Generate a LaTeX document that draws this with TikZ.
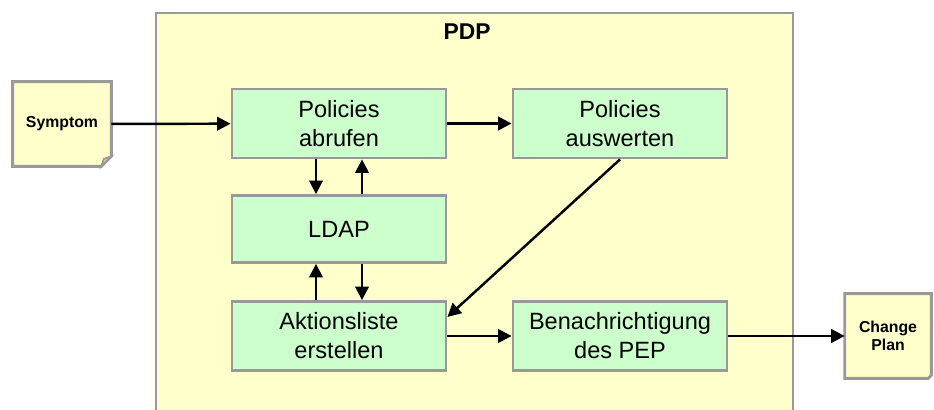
\documentclass[tikz,border=0pt]{standalone}
\usepackage{fontspec}
\setmainfont{Liberation Sans}
\usetikzlibrary{arrows.meta,backgrounds}

\definecolor{notiz}{HTML}{FFFFCC}
\definecolor{schritt}{HTML}{CCFFCC}
\definecolor{rand}{HTML}{999999}

\begin{document}
\begin{tikzpicture}[
    box/.style = {draw=rand, line width=1.6pt, fill=schritt, minimum width=4.28cm,
                  minimum height=1.38cm, align=center, inner sep=0pt,
                  font=\fontsize{13.4}{16.5}\selectfont},
    note/.style = {minimum height=1.68cm, align=center, inner sep=0pt,
                   font=\bfseries\fontsize{9}{10.5}\selectfont},
    pfeil/.style = {-{Triangle[length=0.27cm, width=0.27cm]}, line width=1.4pt}
  ]
  \useasboundingbox (0,0) rectangle (18.68,8.2);

  % Rahmen PDP
  \draw[rand, line width=1.6pt, fill=notiz] (3.12,-0.3) rectangle (15.86,7.94);
  \node[font=\bfseries\fontsize{13}{15}\selectfont] (pdp) at (9.34,7.56) {PDP};

  % Schritte
  \node[box] (abrufen)   at (6.78,5.73) {Policies\\abrufen};
  \node[box] (auswerten) at (12.4,5.73) {Policies\\auswerten};
  \node[box, minimum height=1.34cm] (ldap) at (6.78,3.62) {LDAP};
  \node[box] (aktion)    at (6.78,1.48) {Aktionsliste\\erstellen};
  \node[box] (pep)       at (12.4,1.48) {Benachrichtigung\\des PEP};

  % Notizzettel
  \node[note, minimum width=1.96cm] (symptom) at (1.24,5.72) {Symptom};
  \node[note, minimum width=1.72cm] (plan) at (17.76,1.48) {Change\\Plan};
  \begin{scope}[on background layer]
    \draw[rand, line width=1.6pt, fill=notiz] (symptom.north west) -- (symptom.north east)
      -- ([yshift=0.2cm]symptom.south east) -- ([xshift=-0.2cm]symptom.south east)
      -- (symptom.south west) -- cycle;
    \draw[rand, line width=1pt, fill=notiz!60!rand] ([yshift=0.2cm]symptom.south east)
      -- ([xshift=-0.2cm]symptom.south east) -- ([xshift=-0.15cm, yshift=0.15cm]symptom.south east) -- cycle;
    \draw[rand, line width=1.6pt, fill=notiz] (plan.north west) -- (plan.north east)
      -- ([yshift=0.06cm]plan.south east) -- ([xshift=-0.06cm]plan.south east)
      -- (plan.south west) -- cycle;
  \end{scope}

  % Pfeile
  \draw[pfeil] (symptom) -- (abrufen);
  \draw[pfeil] (abrufen) -- (auswerten);
  \draw[pfeil] ([xshift=-0.46cm]abrufen.south) -- ([xshift=-0.46cm]ldap.north);
  \draw[pfeil] ([xshift=0.46cm]ldap.north) -- ([xshift=0.46cm]abrufen.south);
  \draw[pfeil] ([xshift=-0.46cm]aktion.north) -- ([xshift=-0.46cm]ldap.south);
  \draw[pfeil] ([xshift=0.46cm]ldap.south) -- ([xshift=0.46cm]aktion.north);
  \draw[pfeil] (auswerten.south) -- ([yshift=0.38cm]aktion.east);
  \draw[pfeil] (aktion) -- (pep);
  \draw[pfeil] (pep) -- (plan);
\end{tikzpicture}
\end{document}
